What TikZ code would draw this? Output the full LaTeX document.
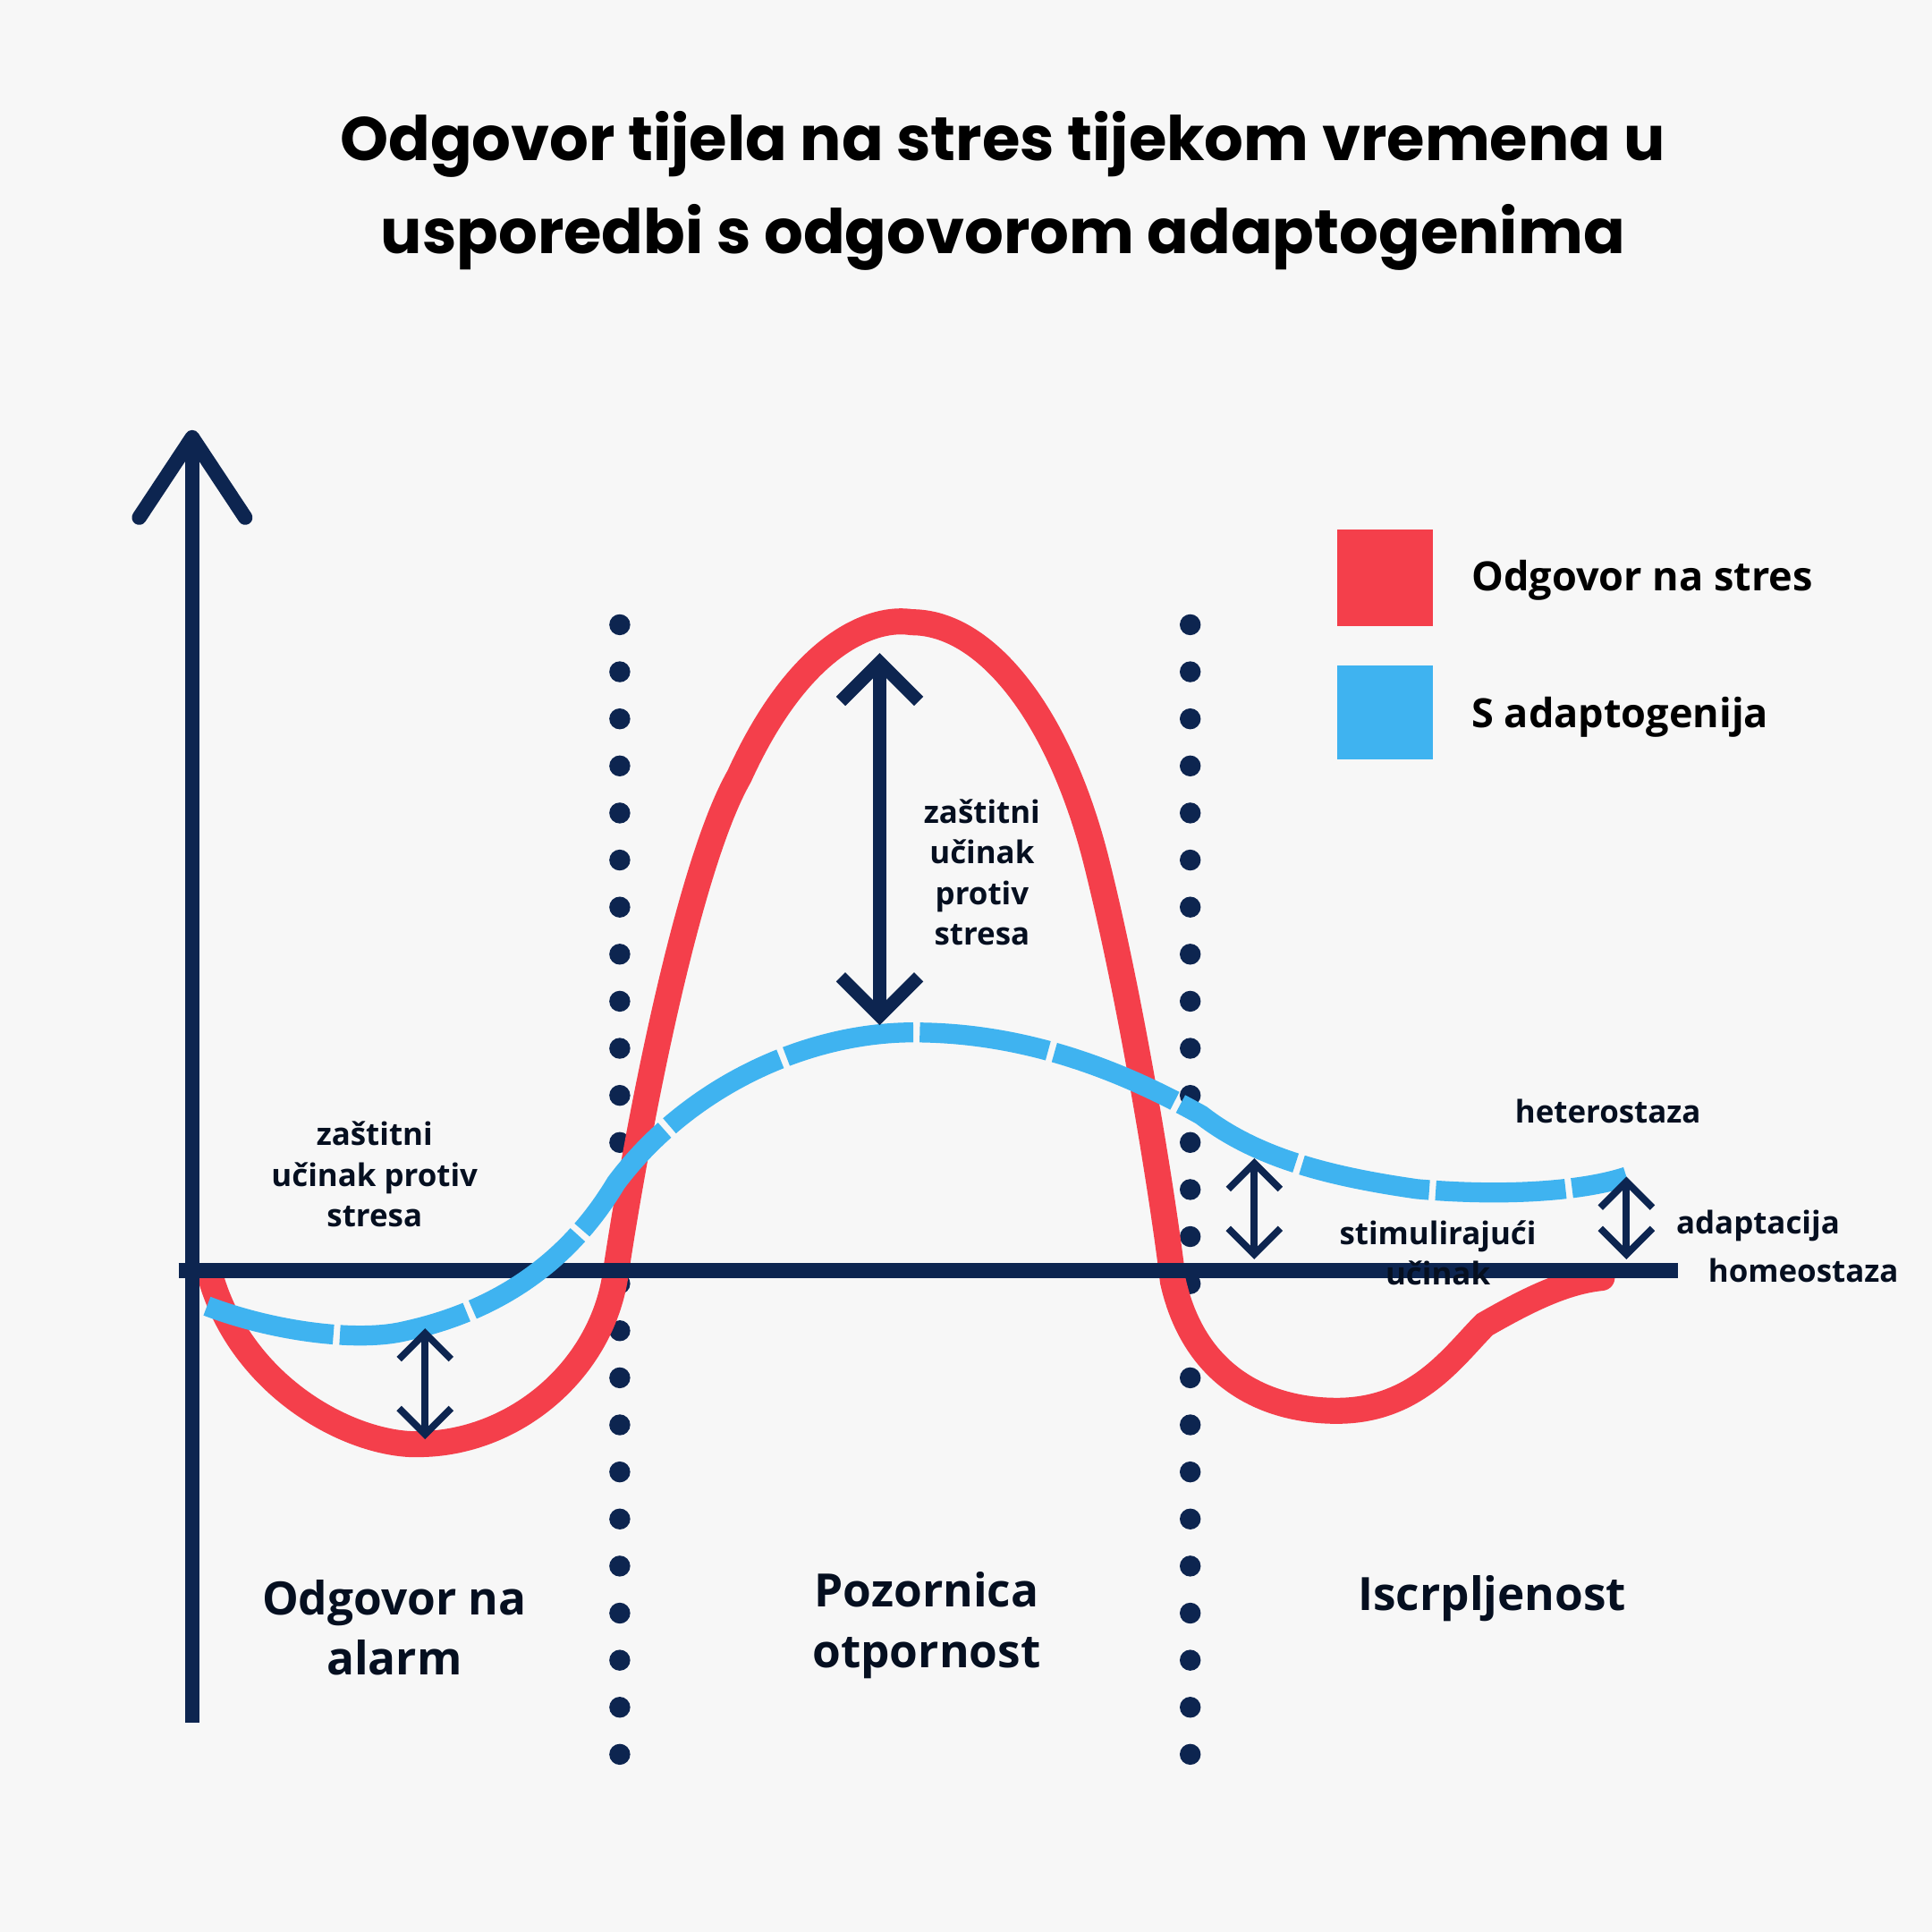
\documentclass[tikz,border=0pt]{standalone}
\usepackage{fontspec}
\setmainfont{Open Sans}
\newfontfamily\titlefont{Poppins}
\usetikzlibrary{arrows.meta}
\definecolor{navy}{HTML}{0D2550}
\definecolor{sred}{HTML}{F43F4B}
\definecolor{sblue}{HTML}{3FB3F0}
\definecolor{bg}{HTML}{F7F7F7}
\tikzset{
 ax/.style={navy,line width=3.4pt},
 dbl/.style={navy,line width=1.6pt,{Straight Barb[length=6pt,width=12pt]}-{Straight Barb[length=6pt,width=12pt]}},
 lbl/.style={font=\bfseries\fontsize{7.2}{9.4}\selectfont,align=center,text=navy!40!black},
 big/.style={font=\bfseries\fontsize{10.6}{14}\selectfont,align=center,text=navy!40!black},
}
\begin{document}
\begin{tikzpicture}[x=0.01cm,y=-0.01cm]
\useasboundingbox (0,0) rectangle (1568,1568);
\fill[bg] (0,0) rectangle (1568,1568);
\node[font=\titlefont\bfseries\fontsize{14.2}{21.5}\selectfont,align=center] (title) at (814,155) {Odgovor tijela na stres tijekom vremena u\\usporedbi s odgovorom adaptogenima};
% dotted lines
\foreach \i in {0,...,24}{
 \fill[navy] (503,507+\i*38.2) circle (8.5);
 \fill[navy] (966,507+\i*38.2) circle (8.5);
}
% red curve
\draw[sred,line width=6pt,line cap=round] (172,1040) .. controls (200,1130) and (290,1175) .. (343,1172)
 .. controls (420,1170) and (490,1110) .. (500,1031)
 .. controls (520,900) and (560,700) .. (600,630)
 .. controls (650,520) and (710,500) .. (740,505)
 .. controls (800,505) and (860,580) .. (890,700)
 .. controls (920,820) and (945,980) .. (952,1040)
 .. controls (970,1120) and (1030,1145) .. (1085,1145)
 .. controls (1150,1145) and (1180,1100) .. (1205,1075)
 .. controls (1240,1055) and (1270,1040) .. (1300,1037);
% axes
\coordinate (yb) at (156,1398); \coordinate (yt) at (156,355);
\coordinate (xl) at (145,1031); \coordinate (xr) at (1362,1031);
\draw[ax] (yb) -- (yt);
\draw[ax,line cap=round,line join=round] (113,420) -- (yt) -- (199,420);
\draw[ax] (xl) -- (xr);
% blue curve
\draw[sblue,line width=4.6pt,dash pattern=on 30pt off 1.5pt] (168,1060) .. controls (220,1080) and (290,1090) .. (330,1080)
 .. controls (420,1060) and (470,1010) .. (500,960)
 .. controls (560,880) and (660,835) .. (750,838)
 .. controls (850,840) and (930,880) .. (975,905)
 .. controls (1020,940) and (1080,955) .. (1150,965)
 .. controls (1230,972) and (1290,965) .. (1320,955);
% arrows
\coordinate (a1) at (345,1078); \coordinate (a2) at (345,1168);
\draw[dbl] (a1) -- (a2);
\coordinate (b1) at (714,530); \coordinate (b2) at (714,832);
\draw[navy,line width=3pt,{Straight Barb[length=9pt,width=18pt]}-{Straight Barb[length=9pt,width=18pt]}] (b1) -- (b2);
\coordinate (c1) at (1018,940); \coordinate (c2) at (1018,1022);
\draw[dbl] (c1) -- (c2);
\coordinate (d1) at (1320,955); \coordinate (d2) at (1320,1022);
\draw[dbl] (d1) -- (d2);
% labels
\node[lbl] (l1) at (304,953) {zaštitni\\učinak protiv\\stresa};
\node[lbl] (l2) at (797,708) {zaštitni\\učinak\\protiv\\stresa};
\node[lbl] (l3) at (1305,902) {heterostaza};
\node[lbl] (l4) at (1167,1017) {stimulirajući\\učinak};
\node[lbl,anchor=west] (l5) at (1348,995) {adaptacija};
\node[lbl,anchor=west] (l6) at (1374,1031) {homeostaza};
\node[big] (s1) at (320,1321) {Odgovor na\\alarm};
\node[big] (s2) at (752,1319) {Pozornica\\otpornost};
\node[big] (s3) at (1211,1297) {Iscrpljenost};
% legend
\fill[sred] (1085,430) rectangle (1163,508);
\fill[sblue] (1085,540) rectangle (1163,616);
\node[font=\bfseries\fontsize{9.3}{12}\selectfont,anchor=west] (g1) at (1182,471) {Odgovor na stres};
\node[font=\bfseries\fontsize{9.3}{12}\selectfont,anchor=west] (g2) at (1182,582) {S adaptogenija};
\end{tikzpicture}
\end{document}
